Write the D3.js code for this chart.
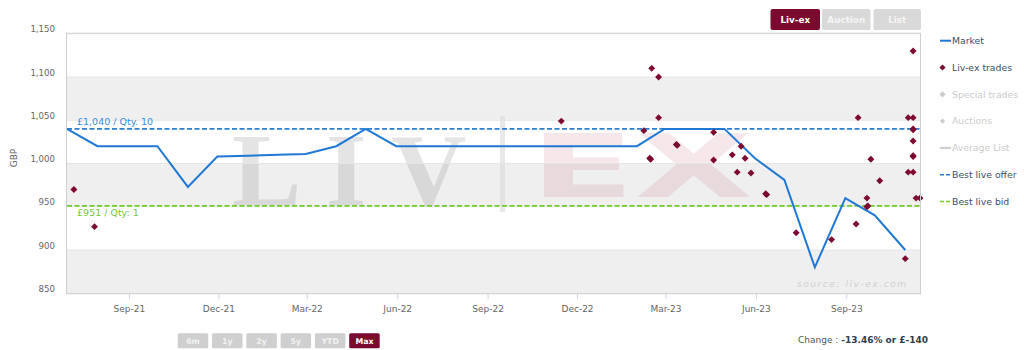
<!DOCTYPE html>
<html><head><meta charset="utf-8">
<script src="https://cdn.jsdelivr.net/npm/d3@7"></script>
<style>body{margin:0;background:#fff}svg{display:block;font-family:"DejaVu Sans",Verdana,sans-serif}</style>
</head><body><svg id="c" width="1024" height="350"></svg>
<script>
// ---- data ----
const marketDates = ["2021-06-30","2021-07-31","2021-08-31","2021-09-30","2021-10-31","2021-11-30","2021-12-31","2022-01-31","2022-02-28","2022-03-31","2022-04-30","2022-05-31","2022-06-30","2022-07-31","2022-08-31","2022-09-30","2022-10-31","2022-11-30","2022-12-31","2023-01-31","2023-02-28","2023-03-31","2023-04-30","2023-05-31","2023-06-30","2023-07-31","2023-08-31","2023-09-30","2023-10-31"];
const marketValues = [1040,1020,1020,1020,973,1008,1009,1010,1011,1020,1040,1020,1020,1020,1020,1020,1020,1020,1020,1020,1040,1040,1040,1006,981,880,960,940,900];
const tradeDates = ["2021-07-07","2021-07-28","2022-11-15","2023-02-07","2023-02-13","2023-02-14","2023-02-15","2023-02-22","2023-02-22","2023-03-12","2023-03-13","2023-04-19","2023-04-19","2023-05-08","2023-05-13","2023-05-17","2023-05-21","2023-05-27","2023-06-11","2023-06-12","2023-07-12","2023-08-17","2023-09-11","2023-09-13","2023-09-22","2023-09-22","2023-09-23","2023-09-26","2023-10-05","2023-10-31","2023-11-03","2023-11-03","2023-11-08","2023-11-08","2023-11-08","2023-11-08","2023-11-08","2023-11-08","2023-11-08","2023-11-08","2023-11-11","2023-11-15"];
const tradeValues = [970,927,1049,1038,1006,1005,1110,1100,1053,1022,1021,1036,1004,1010,990,1020,1006,989,965,964,920,912,930,1053,960,950,951,1005,980,890,1053,990,1053,1040,1039,1026,1009,1008,990,1130,960,960];
const yTicks = [850,900,950,1000,1050,1100,1150];
const xTickDates = ["2021-09-01","2021-12-01","2022-03-01","2022-06-01","2022-09-01","2022-12-01","2023-03-01","2023-06-01","2023-09-01"];
const xDomain = ["2021-06-30","2023-11-15"];
const bestOffer = 1040, bestBid = 951;
const offerLabel = "£1,040 / Qty. 10", bidLabel = "£951 / Qty: 1";
const legendItems = ["Market","Liv-ex trades","Special trades","Auctions","Average List","Best live offer","Best live bid"];
const sourceButtons = ["Liv-ex","Auction","List"];
const rangeButtons = ["6m","1y","2y","5y","YTD","Max"];
const changeLabel = "Change : ", changeValue = "-13.46% or £-140";

// ---- layout ----
const L = 67, R = 920, T = 33.75, B = 293.25;
const parse = d3.utcParse("%Y-%m-%d");
const x = d3.scaleUtc().domain(xDomain.map(parse)).range([L, R]);
const y = d3.scaleLinear().domain([850, 1150]).range([B, T]);
const svg = d3.select("#c");

// bands
const bandPairs = [[850,900],[950,1000],[1050,1100]];
svg.append("g").selectAll("rect").data(bandPairs).join("rect")
  .attr("x", L).attr("width", R - L)
  .attr("y", d => y(d[1])).attr("height", d => y(d[0]) - y(d[1]))
  .attr("fill", "#efefef");

// watermark
const wm = svg.append("g");
wm.append("text").attr("x", 232).attr("y", 205).attr("font-family", "'Liberation Serif',serif")
  .attr("font-weight", "bold").attr("font-size", 104).attr("fill", "#9a9a9a").attr("opacity", 0.26)
  .attr("textLength", 234).attr("lengthAdjust", "spacing").text("LIV");
wm.append("rect").attr("x", 500).attr("y", 116).attr("width", 5).attr("height", 96)
  .attr("fill", "#d8d8d8").attr("opacity", 0.6);
wm.append("text").attr("x", 530).attr("y", 197).attr("font-family", "'DejaVu Sans',sans-serif")
  .attr("font-weight", "bold").attr("font-size", 88).attr("fill", "#a8203f").attr("opacity", 0.1)
  .attr("textLength", 223).attr("lengthAdjust", "spacingAndGlyphs").text("EX");

// grid lines
svg.append("g").selectAll("line").data(yTicks).join("line")
  .attr("x1", L).attr("x2", R).attr("y1", d => y(d)).attr("y2", d => y(d))
  .attr("stroke", "#e6e6e6").attr("stroke-width", 1);

// y axis
const yAxis = svg.append("g").attr("transform", `translate(${L - 12},-2)`)
  .call(d3.axisLeft(y).tickValues(yTicks).tickFormat(d3.format(",")).tickSize(0));
yAxis.select(".domain").remove();
yAxis.selectAll("text").attr("font-size", 8.6).attr("fill", "#666").attr("font-family", "'DejaVu Sans',sans-serif")
  .attr("dy", "0").attr("x", 0);

svg.append("text").attr("transform", "translate(17,158) rotate(-90)").attr("text-anchor", "middle")
  .attr("font-size", 9).attr("fill", "#666").text("GBP");

// x axis
const xAxis = svg.append("g").attr("transform", `translate(0,${B})`)
  .call(d3.axisBottom(x).tickValues(xTickDates.map(parse)).tickFormat(d3.utcFormat("%b-%y")).tickSize(6).tickPadding(6));
xAxis.select(".domain").remove();
xAxis.selectAll("line").attr("stroke", "#ccd6eb");
xAxis.selectAll("text").attr("font-size", 9).attr("fill", "#666").attr("font-family", "'DejaVu Sans',sans-serif");

// best offer / bid
svg.append("line").attr("x1", L).attr("x2", R).attr("y1", y(bestOffer)).attr("y2", y(bestOffer))
  .attr("stroke", "#2a7fd6").attr("stroke-width", 1.6).attr("stroke-dasharray", "5,2.5");
svg.append("line").attr("x1", L).attr("x2", R).attr("y1", y(bestBid)).attr("y2", y(bestBid))
  .attr("stroke", "#72cc2a").attr("stroke-width", 1.6).attr("stroke-dasharray", "5,2.5");
svg.append("text").attr("x", 77).attr("y", y(bestOffer) - 3.5).attr("font-size", 9.5).attr("fill", "#3a8ee0").text(offerLabel);
svg.append("text").attr("x", 77).attr("y", y(bestBid) + 10).attr("font-size", 9.5).attr("fill", "#78c63a").text(bidLabel);

// market line
const mData = marketDates.map((d, i) => [parse(d), marketValues[i]]);
svg.append("path").datum(mData)
  .attr("d", d3.line().x(d => x(d[0])).y(d => y(d[1])))
  .attr("fill", "none").attr("stroke", "#1f78d4").attr("stroke-width", 2).attr("stroke-linejoin", "miter");

// trades
const tData = tradeDates.map((d, i) => [parse(d), tradeValues[i]]);
const diamond = d3.symbol().type(d3.symbolSquare).size(24);
svg.append("g").selectAll("path").data(tData).join("path")
  .attr("d", diamond)
  .attr("transform", d => `translate(${x(d[0])},${y(d[1])}) rotate(45)`)
  .attr("fill", "#7b0a2e");

// plot border
svg.append("rect").attr("x", L - 0.5).attr("y", T - 0.5).attr("width", R - L + 1).attr("height", B - T + 1)
  .attr("fill", "none").attr("stroke", "#cfcfcf").attr("stroke-width", 1);

// source
svg.append("text").attr("x", 797).attr("y", 287).attr("font-size", 9).attr("font-style", "italic")
  .attr("fill", "#cfcfcf").attr("textLength", 109).attr("lengthAdjust", "spacing").text("source: liv-ex.com");

// legend
const lg = svg.append("g").attr("font-size", 9.3);
const legColors = ["#3a4f66","#3a4f66","#cccccc","#cccccc","#cccccc","#3a4f66","#3a4f66"];
legendItems.forEach((name, i) => {
  const cy = 40.7 + i * 26.8;
  const g = lg.append("g");
  if (i === 0 || i === 4) {
    g.append("line").attr("x1", 940).attr("x2", 951).attr("y1", cy).attr("y2", cy)
      .attr("stroke", i === 0 ? "#1f78d4" : "#cccccc").attr("stroke-width", 2);
  } else if (i === 5 || i === 6) {
    g.append("line").attr("x1", 940).attr("x2", 951).attr("y1", cy).attr("y2", cy)
      .attr("stroke", i === 5 ? "#2a7fd6" : "#72cc2a").attr("stroke-width", 1.6).attr("stroke-dasharray", "4,2");
  } else {
    g.append("path").attr("d", d3.symbol().type(d3.symbolSquare).size(i === 3 ? 13 : 19))
      .attr("transform", `translate(942.5,${cy}) rotate(45)`)
      .attr("fill", i === 1 ? "#7b0a2e" : "#cccccc");
  }
  g.append("text").attr("x", 952).attr("y", cy + 3.3).attr("fill", legColors[i]).text(name);
});

// top buttons
const topX = [770.5, 822, 873.5], topW = [49.5, 48.5, 47.5];
sourceButtons.forEach((b, i) => {
  svg.append("rect").attr("x", topX[i]).attr("y", 9).attr("width", topW[i]).attr("height", 21).attr("rx", 2)
    .attr("fill", i === 0 ? "#7a0a2e" : "#d9d9d9");
  svg.append("text").attr("x", topX[i] + topW[i] / 2).attr("y", 22.5).attr("text-anchor", "middle")
    .attr("font-size", 8.8).attr("font-weight", "bold").attr("fill", i === 0 ? "#fff" : "#f5f5f5").text(b);
});

// range buttons
rangeButtons.forEach((b, i) => {
  const bx = 177.7 + i * 34.3;
  svg.append("rect").attr("x", bx).attr("y", 333.3).attr("width", 30.5).attr("height", 15).attr("rx", 1.5)
    .attr("fill", i === rangeButtons.length - 1 ? "#7a0a2e" : "#cfcfcf");
  svg.append("text").attr("x", bx + 15.25).attr("y", 343.6).attr("text-anchor", "middle")
    .attr("font-size", 7.8).attr("font-weight", "bold").attr("fill", i === rangeButtons.length - 1 ? "#fff" : "#f2f2f2").text(b);
});

// change
const ch = svg.append("text").attr("x", 798).attr("y", 342.5).attr("font-size", 9);
ch.append("tspan").attr("fill", "#555").text(changeLabel);
ch.append("tspan").attr("fill", "#2d3e50").attr("font-weight", "bold").text(changeValue);
</script></body></html>
